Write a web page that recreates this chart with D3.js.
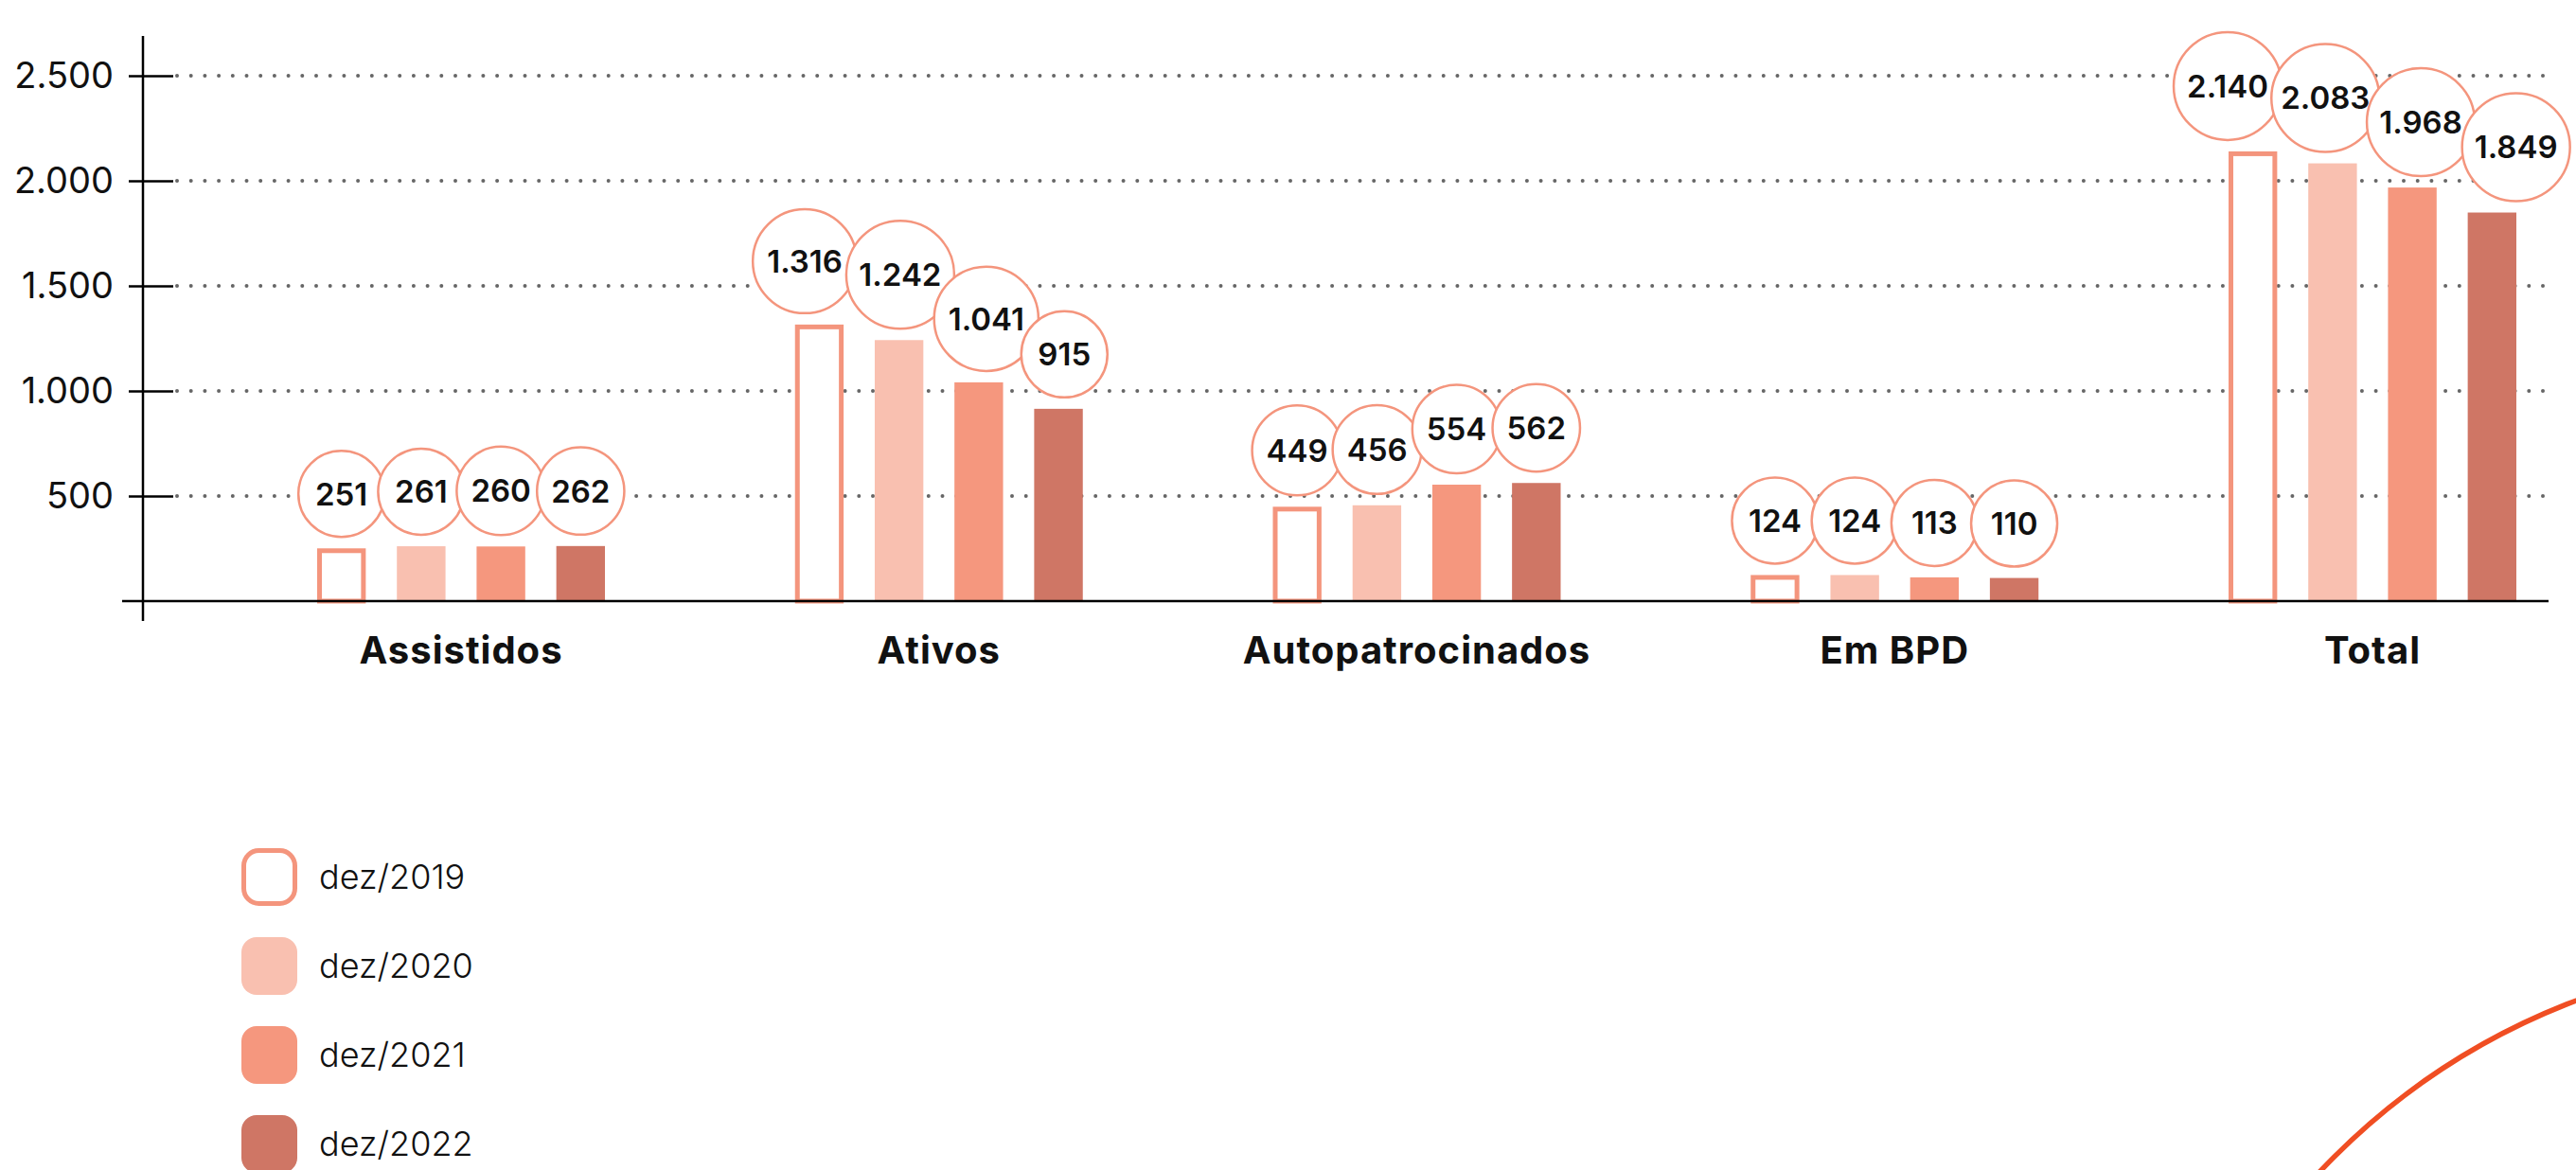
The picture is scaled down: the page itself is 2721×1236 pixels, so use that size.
<!DOCTYPE html>
<html>
<head>
<meta charset="utf-8">
<script src="https://cdn.jsdelivr.net/npm/d3@7"></script>
<style>
  body{margin:0;background:#fff;}
  svg{display:block;font-family:Inter,'Noto Sans',sans-serif;}
  .val{font-variant-numeric:proportional-nums;}
</style>
</head>
<body>
<div class="chart"></div>
<script>
// values per year, one entry per category
const groups=['Assistidos','Ativos','Autopatrocinados','Em BPD','Total']
const years=['dez/2019','dez/2020','dez/2021','dez/2022']
const v2019=[251,1316,449,124,2140]
const v2020=[261,1242,456,124,2083]
const v2021=[260,1041,554,113,1968]
const v2022=[262,915,562,110,1849]
const yTicks=[500,1000,1500,2000,2500]

const series=[v2019,v2020,v2021,v2022]
const fills=['#ffffff','#F9C0B0','#F5977E','#CF7665']
const lineColor='#F4957D'

let w=2721, h=1236
let fmt=d3.formatLocale({decimal:',',thousands:'.',grouping:[3],currency:['R$','']}).format(',')

let svg=d3.select('.chart').append('svg').attr('width',w).attr('height',h)

let y=d3.scaleLinear().domain([0,2500]).range([635,80])
let x0=d3.scalePoint().domain(groups).range([487,2506])
let x1=d3.scaleBand().domain(years).range([-152,152]).paddingInner(0.39)

// dotted grid
svg.append('g').selectAll('line').data(yTicks).enter().append('line')
  .attr('x1',187).attr('x2',2692)
  .attr('y1',d=>y(d)).attr('y2',d=>y(d))
  .attr('stroke','#666').attr('stroke-width',4)
  .attr('stroke-linecap','round').attr('stroke-dasharray','0 14.7')

// y axis
let yAxis=d3.axisLeft(y).tickValues(yTicks).tickFormat(fmt).tickSizeInner(15).tickSizeOuter(0).tickPadding(16)
let ga=svg.append('g').attr('transform','translate(151,0)').call(yAxis)
ga.select('.domain').remove()
ga.selectAll('.tick line').attr('x1',32).attr('stroke','#000').attr('stroke-width',2.5)
ga.selectAll('.tick text').attr('font-size',38).attr('font-weight',400).attr('fill','#111')
  .attr('font-family','Inter,sans-serif')
svg.append('line').attr('x1',151).attr('x2',151).attr('y1',38).attr('y2',656)
  .attr('stroke','#000').attr('stroke-width',2.5)

// bars
let rows=[]
groups.forEach((g,i)=>{
  series.forEach((s,j)=>rows.push({g:g,year:years[j],j:j,v:s[i]}))
})
let bars=svg.append('g')
bars.selectAll('rect').data(rows).enter().append('rect')
  .attr('x',d=>x0(d.g)+x1(d.year)+(d.j==0?2.5:0))
  .attr('y',d=>y(d.v)+(d.j==0?2.5:0))
  .attr('width',d=>x1.bandwidth()-(d.j==0?5:0))
  .attr('height',d=>y(0)-y(d.v)-(d.j==0?2.5:0))
  .attr('fill',d=>fills[d.j])
  .attr('stroke',d=>d.j==0?lineColor:'none')
  .attr('stroke-width',5)

// x axis line
svg.append('line').attr('x1',129).attr('x2',2692).attr('y1',y(0)).attr('y2',y(0))
  .attr('stroke','#000').attr('stroke-width',2.5)

// category labels
svg.append('g').selectAll('text').data(groups).enter().append('text')
  .attr('x',d=>x0(d)).attr('y',701)
  .attr('text-anchor','middle').attr('font-size',40).attr('font-weight',700)
  .attr('letter-spacing',1).attr('fill','#111').text(d=>d)

// value bubbles: circles below, text on top
let circLayer=svg.append('g')
let textLayer=svg.append('g')
groups.forEach(g=>{
  let items=rows.filter(d=>d.g==g).map(d=>{
    let t=textLayer.append('text').attr('class','val').attr('text-anchor','middle')
      .attr('font-size',33).attr('font-weight',600).attr('fill','#111')
      .attr('dy','0.36em').text(fmt(d.v))
    let tw=t.node().getComputedTextLength()
    let r=Math.max(45.5,Math.min(57,tw/2+15))
    let bx=x0(d.g)+x1(d.year)+x1.bandwidth()/2
    return {t:t,r:r,bx:bx,cx:bx,cy:y(d.v)-r-12}
  })
  // push overlapping bubbles to the right, then re-centre the group
  for(let i=1;i<items.length;i++){
    let p=items[i-1], c=items[i]
    let minD=p.r+c.r-10, dy=c.cy-p.cy
    if(Math.abs(dy)<minD){
      let dx=Math.sqrt(minD*minD-dy*dy)
      c.cx=Math.max(c.cx,p.cx+dx)
    }
  }
  let shift=d3.mean(items,d=>d.cx-d.bx)
  items.forEach(d=>{
    d.cx-=shift
    circLayer.append('circle').attr('cx',d.cx).attr('cy',d.cy).attr('r',d.r)
      .attr('fill','#fff').attr('stroke',lineColor).attr('stroke-width',2.5)
    d.t.attr('x',d.cx).attr('y',d.cy)
  })
})

// legend
let lg=svg.append('g').selectAll('g').data(years).enter().append('g')
  .attr('transform',(d,i)=>'translate(255,'+(896+i*94)+')')
lg.append('rect')
  .attr('x',(d,i)=>i==0?2.5:0).attr('y',(d,i)=>i==0?2.5:0)
  .attr('width',(d,i)=>i==0?54:59).attr('height',(d,i)=>i==0?56:61)
  .attr('rx',16).attr('fill',(d,i)=>fills[i])
  .attr('stroke',(d,i)=>i==0?lineColor:'none').attr('stroke-width',5)
lg.append('text').attr('x',82).attr('y',43)
  .attr('font-size',36).attr('font-weight',300).attr('fill','#111').text(d=>d)

// decorative arc
svg.append('circle').attr('cx',2978).attr('cy',1735).attr('r',725)
  .attr('fill','none').attr('stroke','#F04E23').attr('stroke-width',5.5)
</script>
</body>
</html>
